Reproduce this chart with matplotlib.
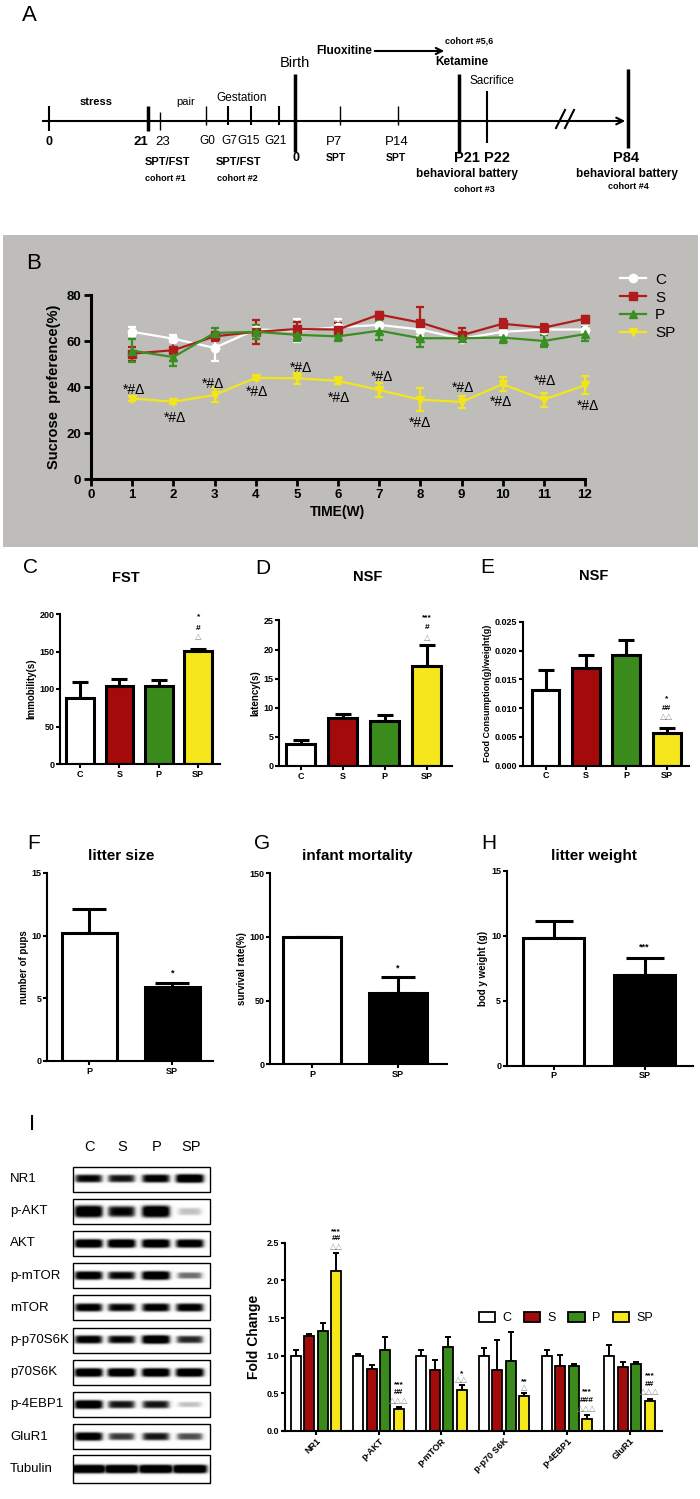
import numpy as np
import matplotlib
matplotlib.use("Agg")
import matplotlib.pyplot as plt
from matplotlib import font_manager
from matplotlib.patches import Rectangle
from matplotlib.lines import Line2D

W, H = 700, 1499

# ---------------- data ----------------
groups = ['C', 'S', 'P', 'SP']
group_colors = ['#ffffff', '#a30b0b', '#3b8a1c', '#f6e61c']
line_colors = ['#ffffff', '#b01c1c', '#3a8f22', '#f2e51a']

# B: sucrose preference per week
weeks = np.arange(1, 13)
spt_C = [64, 61, 57, 65, 64.5, 66, 67, 65, 61, 64, 65, 65]
spt_C_err = [2, 1.5, 5.5, 1.5, 5, 3.5, 2, 3, 1.5, 1.5, 1.5, 1.5]
spt_S = [54.5, 56, 62, 64, 65.2, 65, 71.5, 68, 62.5, 67.5, 65.8, 69.7]
spt_S_err = [3, 4.5, 2, 5.3, 3, 3, 1, 7, 3, 2, 1.5, 1]
spt_P = [55.8, 53, 63.5, 64, 62.7, 62, 64.5, 61.2, 61.2, 61.5, 60, 63]
spt_P_err = [5, 4, 2, 3, 2.5, 2, 4, 4, 1.5, 2.5, 2.5, 3]
spt_SP = [35, 33.6, 36.5, 44, 43.8, 42.7, 38.7, 34.5, 33.5, 41.2, 34.5, 40.8]
spt_SP_err = [1, 1, 3, 1, 2.5, 1.5, 3, 5, 2.5, 3, 3, 4]
spt_sig_x = [1.05, 2.04, 2.97, 4.02, 5.09, 6.03, 7.07, 8.0, 9.04, 9.97, 11.02, 12.06]
spt_sig_y = [38.7, 26.7, 41.2, 37.7, 48.1, 35.4, 44.2, 24.2, 39.7, 33.6, 42.7, 31.9]

# C: FST immobility
fst = [88, 104, 104, 151]
fst_err = [21, 9, 8, 3]
# D: NSF latency
nsf_lat = [3.8, 8.3, 7.7, 17.1]
nsf_lat_err = [0.6, 0.7, 1.1, 3.7]
# E: NSF food consumption
nsf_food = [0.0131, 0.0170, 0.0193, 0.0057]
nsf_food_err = [0.0035, 0.0023, 0.0025, 0.0008]

# F, G, H
pups_groups = ['P', 'SP']
litter_size = [10.2, 5.9]
litter_size_err = [1.9, 0.35]
survival = [100, 55.7]
survival_err = [0, 12.5]
litter_weight = [9.8, 7.0]
litter_weight_err = [1.33, 1.3]

# I: western blot quantification
proteins = ['NR1', 'p-AKT', 'p-mTOR', 'p-p70 S6K', 'p-4EBP1', 'GluR1']
fold_C = [1.0, 1.0, 1.0, 1.0, 1.0, 1.0]
fold_C_err = [0.08, 0.02, 0.07, 0.10, 0.08, 0.14]
fold_S = [1.26, 0.82, 0.81, 0.81, 0.86, 0.85]
fold_S_err = [0.03, 0.05, 0.13, 0.40, 0.15, 0.07]
fold_P = [1.33, 1.075, 1.12, 0.93, 0.86, 0.885]
fold_P_err = [0.11, 0.175, 0.13, 0.38, 0.03, 0.025]
fold_SP = [2.12, 0.29, 0.544, 0.46, 0.155, 0.40]
fold_SP_err = [0.24, 0.03, 0.066, 0.04, 0.055, 0.03]
fold_sig = [['***', '##', '△△'], ['***', '##', '△△△'], ['*', '△△'],
            ['**', '△'], ['***', '###', '△△△'], ['***', '##', '△△△']]
fold_sig_y = [[2.65, 2.55, 2.43], [0.62, 0.51, 0.39], [0.76, 0.67],
              [0.65, 0.57], [0.52, 0.40, 0.28], [0.73, 0.62, 0.51]]

# blot: band density per lane (C, S, P, SP)
blot_rows = ['NR1', 'p-AKT', 'AKT', 'p-mTOR', 'mTOR', 'p-p70S6K', 'p70S6K',
             'p-4EBP1', 'GluR1', 'Tubulin']
band_density = [[0.85, 0.8, 0.9, 1.0], [1.0, 0.85, 1.0, 0.3], [1, 1, 1, 0.95],
                [0.95, 0.85, 1.0, 0.55], [0.9, 0.85, 0.9, 0.9], [0.9, 0.85, 1.0, 0.75],
                [1, 1, 1, 1], [1.0, 0.8, 0.8, 0.3], [0.95, 0.7, 0.8, 0.65], [1, 1, 1, 1]]

# ---------------- style ----------------
names = {f.name for f in font_manager.fontManager.ttflist}
narrow = 'Liberation Sans Narrow' if 'Liberation Sans Narrow' in names else 'Liberation Sans'
plt.rcParams['font.family'] = [narrow, 'DejaVu Sans']
plt.rcParams['font.weight'] = 'bold'
plt.rcParams['axes.labelweight'] = 'bold'
plt.rcParams['axes.linewidth'] = 1.5

fig = plt.figure(figsize=(W / 100, H / 100), dpi=100)

ov = fig.add_axes([0, 0, 1, 1], zorder=10)
ov.set_xlim(0, W)
ov.set_ylim(H, 0)
ov.axis('off')
ov.patch.set_alpha(0)


def px_rect(l, t, r, b):
    return [l / W, 1 - b / H, (r - l) / W, (b - t) / H]


def txt(x, y, s, size=9, weight='bold', **kw):
    kw.setdefault('ha', 'center')
    kw.setdefault('va', 'center')
    ov.text(x, y, s, fontsize=size, fontweight=weight, **kw)


def style_axes(ax, labelsize=6.5, ticklen=3):
    ax.spines[['top', 'right']].set_visible(False)
    ax.tick_params(direction='out', length=ticklen, width=1.5, labelsize=labelsize, pad=1)
    for lab in ax.get_xticklabels() + ax.get_yticklabels():
        lab.set_fontweight('bold')


def bar_panel(rect, xlim, cats, vals, errs, colors, ylim, yticks, fmt, ylabel,
              width, capsize, ylabelsize=7):
    ax = fig.add_axes(px_rect(*rect))
    x = np.arange(len(cats))
    ax.bar(x, vals, width=width, color=colors, edgecolor='black', linewidth=2.2, zorder=2)
    ax.errorbar(x, vals, yerr=[np.zeros(len(vals)), errs], fmt='none', ecolor='black',
                elinewidth=2.2, capsize=capsize, capthick=2.2, zorder=1)
    ax.set_xlim(*xlim)
    ax.set_ylim(*ylim)
    ax.set_yticks(yticks)
    ax.set_yticklabels([fmt.format(v) for v in yticks])
    ax.set_xticks(x)
    ax.set_xticklabels(cats, fontsize=7)
    ax.set_ylabel(ylabel, fontsize=ylabelsize, labelpad=2)
    style_axes(ax)
    return ax


def sig_stack(ax, x, ys, marks, size=6):
    for y, m in zip(ys, marks):
        col = '#8a8a8a' if '△' in m else 'black'
        ax.text(x, y, m, fontsize=size, ha='center', va='center', color=col,
                clip_on=False, fontweight='bold')


# ---------------- A: timeline ----------------
txt(29, 15, 'A', size=16, weight='normal')
ov.annotate('', xy=(628, 121), xytext=(40, 121),
            arrowprops=dict(arrowstyle='->', lw=1.5, color='black', mutation_scale=12))
ticks_a = [(48.5, 106, 131, 1.5), (148, 106, 131, 2.5), (160, 112, 130, 1),
           (206.4, 106, 125, 1), (227.5, 106, 125, 1.5), (250.8, 106, 125, 1.5),
           (279, 106, 125, 1.5), (295.2, 74, 152, 2.5), (340, 106, 125, 1),
           (398, 106, 125, 1), (459.4, 74, 153, 2.5), (487, 91, 143, 1.5),
           (627.5, 69, 148, 2.5)]
for x, y0, y1, lw in ticks_a:
    ov.plot([x, x], [y0, y1], color='black', lw=lw, solid_capstyle='butt')
ov.plot([556, 565], [128, 110], color='black', lw=1.5)
ov.plot([565, 574], [128, 110], color='black', lw=1.5)

txt(96.5, 102, 'stress', 8)
txt(186, 102, 'pair', 8, 'normal')
txt(242, 98, 'Gestation', 8.5, 'normal')
txt(295, 63, 'Birth', 10.5, 'normal')
txt(343.7, 51, 'Fluoxitine', 8.5)
ov.annotate('', xy=(447, 51), xytext=(372, 51),
            arrowprops=dict(arrowstyle='->', lw=1.5, color='black', mutation_scale=11))
txt(469, 41, 'cohort #5,6', 6.5)
txt(462, 62, 'Ketamine', 8.5)
txt(492, 81, 'Sacrifice', 8.5, 'normal')

txt(48.5, 142, '0', 9)
txt(141.3, 142, '21', 9.5)
txt(163, 142, '23', 9.5, 'normal')
for x, s in [(207, 'G0'), (229, 'G7'), (249, 'G15'), (275.5, 'G21')]:
    txt(x, 141, s, 8.5, 'normal')
txt(296, 158, '0', 9)
txt(334, 142, 'P7', 9.5, 'normal')
txt(335.6, 158, 'SPT', 7.5)
txt(397, 142, 'P14', 9.5, 'normal')
txt(395.7, 158, 'SPT', 7.5)
txt(466.6, 158, 'P21', 10.5)
txt(496.6, 158, 'P22', 10.5)
txt(466.6, 174, 'behavioral battery', 8.5)
txt(474, 189, 'cohort #3', 6.5)
txt(625.8, 158, 'P84', 10.5)
txt(627, 174, 'behavioral battery', 8.5)
txt(628, 186.5, 'cohort #4', 6.5)
txt(167, 162, 'SPT/FST', 8)
txt(165, 178, 'cohort #1', 6.5)
txt(238.7, 162, 'SPT/FST', 8)
txt(237, 178, 'cohort #2', 6.5)

# ---------------- B: sucrose preference ----------------
fig.patches.append(Rectangle((3 / W, 1 - 547 / H), 695 / W, 312 / H, transform=fig.transFigure,
                             facecolor='#bebdb9', edgecolor='none', zorder=-1))
txt(34, 263, 'B', 16, 'normal')
axB = fig.add_axes(px_rect(91, 295, 585, 479))
axB.patch.set_alpha(0)
series = [(spt_C, spt_C_err, 'o'), (spt_S, spt_S_err, 's'), (spt_P, spt_P_err, '^'),
          (spt_SP, spt_SP_err, 'v')]
handles = []
for (vals, errs, mk), col, name in zip(series, line_colors, groups):
    axB.errorbar(weeks, vals, yerr=errs, color=col, lw=1.6, marker=mk, ms=6,
                 mec=col, mfc=col, elinewidth=1.6, capsize=3, capthick=1.6, clip_on=False)
    handles.append(Line2D([], [], color=col, lw=1.6, marker=mk, ms=6, mfc=col, mec=col))
for x, y in zip(spt_sig_x, spt_sig_y):
    axB.text(x, y, '*#Δ', fontsize=10, ha='center', va='center', fontweight='normal')
axB.set_xlim(0, 12)
axB.set_ylim(0, 80)
axB.set_xticks(range(13))
axB.set_yticks(range(0, 81, 20))
axB.spines[['top', 'right']].set_visible(False)
axB.spines[['left', 'bottom']].set_linewidth(2.2)
axB.tick_params(direction='out', length=5, width=2, labelsize=9.5, pad=2)
for lab in axB.get_xticklabels() + axB.get_yticklabels():
    lab.set_fontweight('bold')
axB.set_xlabel('TIME(W)', fontsize=10, labelpad=3)
axB.set_ylabel('Sucrose  preference(%)', fontsize=10.5, labelpad=4)
axB.legend(handles, groups, loc='upper left', bbox_to_anchor=(606 / W, 1 - 259 / H),
           bbox_transform=fig.transFigure, frameon=False, handlelength=1.7,
           labelspacing=0.25, handletextpad=0.6,
           prop={'size': 11, 'weight': 'normal'})

# ---------------- C, D, E ----------------
txt(31, 567, 'C', 15, 'normal')
txt(262.5, 568, 'D', 15, 'normal')
txt(487, 567, 'E', 15, 'normal')
txt(126, 578, 'FST', 10.5)
txt(368, 577, 'NSF', 10.5)
txt(594, 576, 'NSF', 10.5)

axC = bar_panel((60, 614, 220, 764), (-0.505, 3.555), groups, fst, fst_err, group_colors,
                (0, 200), [0, 50, 100, 150, 200], '{:d}', 'Immobility(s)', 0.7, 5.5)
sig_stack(axC, 3, [196, 181, 168], ['*', '#', '△'])
axD = bar_panel((279, 620.5, 452, 766), (-0.513, 3.6), groups, nsf_lat, nsf_lat_err, group_colors,
                (0, 25), [0, 5, 10, 15, 20, 25], '{:d}', 'latency(s)', 0.7, 5.5)
sig_stack(axD, 3, [25.4, 23.8, 21.9], ['***', '#', '△'])
axE = bar_panel((522.6, 621.7, 688.6, 765.7), (-0.567, 3.54), groups, nsf_food, nsf_food_err,
                group_colors, (0, 0.025), [0, 0.005, 0.01, 0.015, 0.02, 0.025], '{:.3f}',
                'Food Consumption(g)/weight(g)', 0.69, 5.5, ylabelsize=6.5)
sig_stack(axE, 3, [0.0116, 0.0099, 0.0083], ['*', '##', '△△'])

# ---------------- F, G, H ----------------
txt(33.6, 843, 'F', 15, 'normal')
txt(262, 843, 'G', 15, 'normal')
txt(489, 843, 'H', 15, 'normal')
txt(121, 856, 'litter size', 11)
txt(357, 856, 'infant mortality', 11)
txt(594, 856, 'litter weight', 11)

pair_colors = ['#ffffff', '#000000']
axF = bar_panel((47, 873, 213, 1061), (-0.513, 1.492), pups_groups, litter_size, litter_size_err,
                pair_colors, (0, 15), [0, 5, 10, 15], '{:d}', 'number of pups', 0.67, 12)
axF.text(1, 7.0, '*', fontsize=6.5, ha='center', va='center')
axG = bar_panel((270, 873.3, 447, 1064.3), (-0.495, 1.58), pups_groups, survival, survival_err,
                pair_colors, (0, 150), [0, 50, 100, 150], '{:d}', 'survival rate(%)', 0.68, 12)
axG.text(1, 75.8, '*', fontsize=6.5, ha='center', va='center')
axH = bar_panel((506.7, 870.7, 693, 1065.7), (-0.516, 1.531), pups_groups, litter_weight,
                litter_weight_err, pair_colors, (0, 15), [0, 5, 10, 15], '{:d}',
                'bod y weight (g)', 0.67, 14)
axH.text(1, 9.15, '***', fontsize=6.5, ha='center', va='center')

# ---------------- I: blot ----------------
txt(31.7, 1124, 'I', 16, 'normal')
lane_x = [88.5, 121.5, 156, 190]
for x, g in zip(lane_x, groups):
    txt(x + 1, 1147, g, 10.5, 'normal')
box_x0, box_x1 = 73, 210
row_step = 32.2
xs = np.linspace(box_x0, box_x1, 270)
for i, (name, dens) in enumerate(zip(blot_rows, band_density)):
    yc = 1179 + i * row_step
    bh = 28 if name == 'Tubulin' else 25
    ys = np.linspace(-bh / 2, bh / 2, 60)
    img = np.zeros((len(ys), len(xs)))
    for j, d in enumerate(dens):
        bw = 35 if name == 'Tubulin' else 28
        th = 2.5 + 3.0 * d if name == 'p-AKT' else 1.8 + 2.2 * d
        hp = 1 / (1 + np.exp((np.abs(xs - lane_x[j]) - bw / 2 * (0.75 + 0.25 * d)) / 1.6))
        vp = np.exp(-0.5 * (ys / th) ** 4)
        img = np.maximum(img, d * np.outer(vp, hp))
    ov.imshow(img, cmap='Greys', vmin=0, vmax=0.85, extent=(box_x0, box_x1, yc + bh / 2, yc - bh / 2),
              aspect='auto', interpolation='bilinear', zorder=1)
    ov.add_patch(Rectangle((box_x0, yc - bh / 2), box_x1 - box_x0, bh, fill=False,
                           edgecolor='black', lw=1, zorder=2))
    txt(10, yc, name, 9.5, 'normal', ha='left')
ov.set_xlim(0, W)
ov.set_ylim(H, 0)

# ---------------- I: fold change ----------------
axI = fig.add_axes(px_rect(285, 1242.7, 661.7, 1431))
gx = np.arange(len(proteins))
offsets = (np.arange(4) - 1.5) * 0.215
fold_vals = [fold_C, fold_S, fold_P, fold_SP]
fold_errs = [fold_C_err, fold_S_err, fold_P_err, fold_SP_err]
bar_handles = []
for k in range(4):
    b = axI.bar(gx + offsets[k], fold_vals[k], width=0.16, color=group_colors[k],
                edgecolor='black', linewidth=1.3, zorder=2)
    axI.errorbar(gx + offsets[k], fold_vals[k], yerr=[np.zeros(6), fold_errs[k]], fmt='none',
                 ecolor='black', elinewidth=1.4, capsize=2.3, capthick=1.4, zorder=1)
    bar_handles.append(b)
for g in range(len(proteins)):
    sig_stack(axI, gx[g] + offsets[3], fold_sig_y[g], fold_sig[g], size=6)
axI.set_xlim(-0.494, 5.513)
axI.set_ylim(0, 2.5)
axI.set_yticks(np.arange(0, 2.51, 0.5))
axI.set_yticklabels(['{:.1f}'.format(v) for v in np.arange(0, 2.51, 0.5)])
axI.set_xticks(gx)
axI.set_xticklabels(proteins, rotation=45, ha='right', rotation_mode='anchor', fontsize=7)
axI.set_ylabel('Fold Change', fontsize=10, labelpad=4)
style_axes(axI)
axI.legend(bar_handles, ['C', 'S', 'P', 'SP'], loc='center', ncol=4,
           bbox_to_anchor=(566 / W, 1 - 1318 / H), bbox_transform=fig.transFigure,
           frameon=False, handlelength=1.3, handleheight=0.9, columnspacing=1.0,
           handletextpad=0.6, prop={'size': 9, 'weight': 'normal'})

fig.savefig('out.png', dpi=100)
